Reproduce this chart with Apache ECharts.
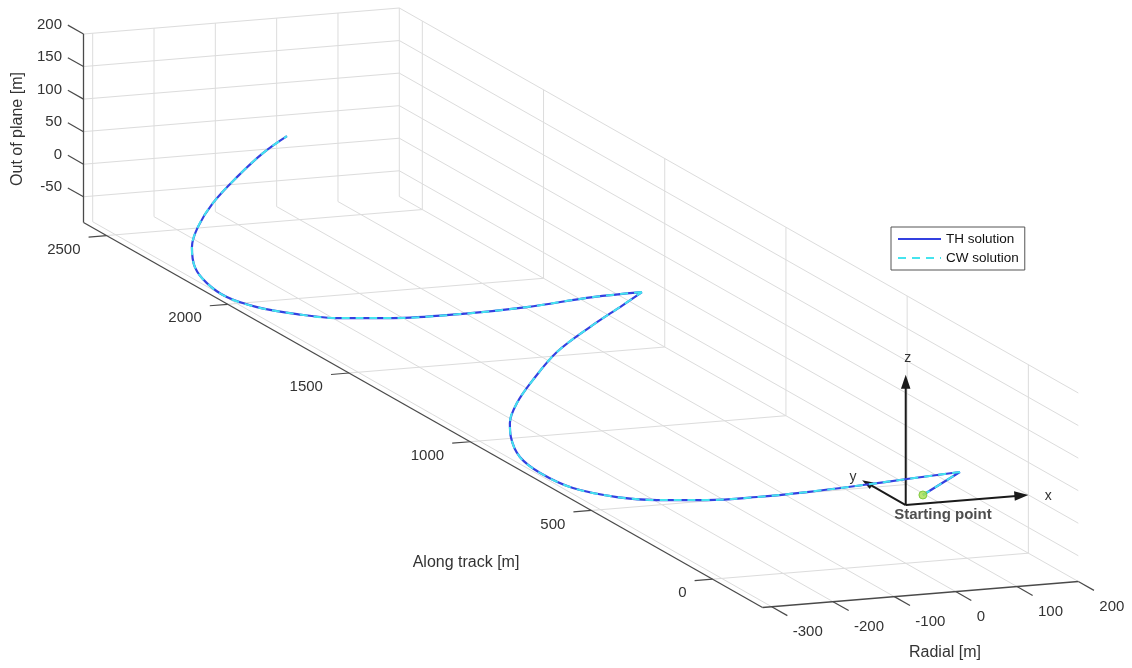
<!DOCTYPE html>
<html>
<head>
<meta charset="utf-8">
<title>Relative trajectory</title>
<script src="https://cdn.jsdelivr.net/npm/echarts@6/dist/echarts.min.js"></script>
<style>
  html, body { margin: 0; padding: 0; background: #ffffff; }
  #chart { width: 1132px; height: 668px; }
</style>
</head>
<body>
<div id="chart"></div>
<script>
// Chaser trajectory in the LVLH frame [m]
const radial = [28.0, 189.2, 103.9, 37.5, -43.9, -110.2, -171.9, -227.8, -264.4, -298.3, -315.0, -312.0, -295.3, -271.0, -236.6, -185.3, -113.6, -19.6, 81.2, 189.2, 110.4, 10.4, -82.4, -166.8, -231.1, -267.6, -295.0, -312.8, -312.3, -300.6, -270.9, -241.2, -191.3, -119.4, -46.3, 16.5];
const alongTrack = [0, 255.0, 257.9, 271.3, 296.6, 335.0, 385.4, 450.0, 522.5, 618.2, 710.9, 802.3, 881.8, 947.4, 1005.3, 1069.4, 1151.6, 1253.1, 1371.9, 1566.9, 1569.8, 1589.2, 1630.7, 1693.5, 1761.9, 1834.5, 1930.1, 2009.2, 2092.8, 2171.9, 2259.3, 2310.0, 2374.3, 2456.9, 2534.5, 2594.4];
const outOfPlane = [13.2, -17.8, -22.6, -29.5, -39.3, -49.9, -60.4, -69.7, -77.6, -81.3, -76.5, -71.5, -58.9, -53.1, -37.3, -19.5, 0.6, 10.3, 11.2, -18.4, -20.6, -32.3, -44.6, -57.5, -67.0, -73.3, -80.6, -80.6, -76.8, -69.8, -59.9, -42.2, -22.7, -5.8, 9.0, 17.6];
// samples where the relative velocity reverses (cusps of the path)
const cuspSamples = [1, 19];

// axis limits and ticks
const radialRange = [-315, 200];
const alongRange = [-206, 2595];
const outRange = [-89.5, 200];
const radialTicks = [-300, -200, -100, 0, 100, 200];
const alongTicks = [0, 500, 1000, 1500, 2000, 2500];
const outTicks = [-50, 0, 50, 100, 150, 200];

// local reference frame drawn at the origin
const frameNames = ['x', 'y', 'z'];
const frameLength = [200, 180, 200];

const FONT = '"Liberation Sans", Arial, Helvetica, sans-serif';
const GRID_COLOR = '#dcdcdc';
const AXIS_COLOR = '#4a4a4a';
const TEXT_COLOR = '#333333';
const TH_COLOR = '#3340e0';
const CW_COLOR = '#45e4ee';

// Orthographic view of the data box: anchor = (xmin, ymin, zmin) corner,
// edge vectors = screen extent of each full axis range.
const VIEW = { o: [762.5, 607.5], ex: [315.8, -26], ey: [-679, -385], ez: [0, -188.5] };

function project(x, y, z) {
  const fx = (x - radialRange[0]) / (radialRange[1] - radialRange[0]);
  const fy = (y - alongRange[0]) / (alongRange[1] - alongRange[0]);
  const fz = (z - outRange[0]) / (outRange[1] - outRange[0]);
  return [
    VIEW.o[0] + fx * VIEW.ex[0] + fy * VIEW.ey[0] + fz * VIEW.ez[0],
    VIEW.o[1] + fx * VIEW.ex[1] + fy * VIEW.ey[1] + fz * VIEW.ez[1]
  ];
}
function unit(a, b) {
  const dx = b[0] - a[0], dy = b[1] - a[1], l = Math.hypot(dx, dy);
  return [dx / l, dy / l];
}

const [X0, X1] = radialRange, [Y0, Y1] = alongRange, [Z0, Z1] = outRange;

// grid lines on the three back walls
const gridSegs = [];
radialTicks.forEach(x => {
  gridSegs.push([[x, Y1, Z0], [x, Y1, Z1]]);
  gridSegs.push([[x, Y0, Z0], [x, Y1, Z0]]);
});
alongTicks.forEach(y => {
  gridSegs.push([[X1, y, Z0], [X1, y, Z1]]);
  gridSegs.push([[X0, y, Z0], [X1, y, Z0]]);
});
outTicks.forEach(z => {
  gridSegs.push([[X0, Y1, z], [X1, Y1, z]]);
  gridSegs.push([[X1, Y0, z], [X1, Y1, z]]);
});
const axisSegs = [
  [[X0, Y1, Z0], [X0, Y1, Z1]],
  [[X0, Y0, Z0], [X0, Y1, Z0]],
  [[X0, Y0, Z0], [X1, Y0, Z0]]
];

function segData(segs) {
  return segs.map(s => project(...s[0]).concat(project(...s[1])));
}
function segSeries(segs, style, z) {
  return {
    type: 'custom', coordinateSystem: 'cartesian2d', silent: true, z: z,
    data: segData(segs),
    renderItem(params, api) {
      const a = api.coord([api.value(0), api.value(1)]);
      const b = api.coord([api.value(2), api.value(3)]);
      return { type: 'line', shape: { x1: a[0], y1: a[1], x2: b[0], y2: b[1] }, style: style };
    }
  };
}

// tick directions in the view
const dirPlusY = unit(project(X0, Y0, Z0), project(X0, Y1, Z0));
const dirMinusY = [-dirPlusY[0], -dirPlusY[1]];
const dirMinusX = unit(project(X1, Y0, Z0), project(X0, Y0, Z0));
const TICK = 18;

function tickSeries(points, values, dir, lab) {
  return {
    type: 'custom', coordinateSystem: 'cartesian2d', silent: true, z: 4,
    data: points,
    renderItem(params, api) {
      const p = api.coord([api.value(0), api.value(1)]);
      return {
        type: 'group',
        children: [
          { type: 'line', shape: { x1: p[0], y1: p[1], x2: p[0] + dir[0] * TICK, y2: p[1] + dir[1] * TICK },
            style: { stroke: AXIS_COLOR, lineWidth: 1.2 } },
          { type: 'text', x: p[0] + lab.dx, y: p[1] + lab.dy,
            style: { text: String(values[params.dataIndex]), fill: TEXT_COLOR, font: '15px ' + FONT,
                     textAlign: lab.align, textVerticalAlign: 'middle' } }
        ]
      };
    }
  };
}

// trajectory, broken at the cusps so the smoothing keeps them sharp
function pathData() {
  const out = [];
  for (let i = 0; i < radial.length; i++) {
    const p = project(radial[i], alongTrack[i], outOfPlane[i]);
    out.push(p);
    if (cuspSamples.indexOf(i) >= 0) { out.push(['-', '-']); out.push(p); }
  }
  return out;
}
const path = pathData();

// reference frame arrows from the origin
const frameData = frameNames.map((n, i) => {
  const d = [0, 0, 0]; d[i] = frameLength[i];
  return project(0, 0, 0).concat(project(d[0], d[1], d[2]));
});
const frameLabelOffset = [[20, 1], [-9, -3], [2, -17]];

const chart = echarts.init(document.getElementById('chart'), null, { renderer: 'canvas' });
chart.setOption({
  animation: false,
  backgroundColor: '#ffffff',
  grid: { left: 0, right: 0, top: 0, bottom: 0, containLabel: false },
  xAxis: { type: 'value', min: 0, max: 1132, show: false },
  yAxis: { type: 'value', min: 0, max: 668, inverse: true, show: false },
  legend: {
    data: ['TH solution', 'CW solution'],
    orient: 'vertical', left: 891, top: 227,
    padding: [5, 6, 5, 6], itemGap: 5, itemWidth: 43, itemHeight: 14,
    backgroundColor: '#ffffff', borderColor: '#555555', borderWidth: 1, borderRadius: 0,
    selectedMode: false,
    itemStyle: { opacity: 0 },
    textStyle: { fontSize: 13.5, color: '#111111', fontFamily: FONT }
  },
  graphic: [
    { type: 'text', x: 18, y: 129, rotation: Math.PI / 2,
      style: { text: 'Out of plane [m]', font: '16px ' + FONT, fill: TEXT_COLOR, textAlign: 'center', textVerticalAlign: 'middle' } },
    { type: 'text', x: 466, y: 563,
      style: { text: 'Along track [m]', font: '16px ' + FONT, fill: TEXT_COLOR, textAlign: 'center', textVerticalAlign: 'middle' } },
    { type: 'text', x: 945, y: 653,
      style: { text: 'Radial [m]', font: '16px ' + FONT, fill: TEXT_COLOR, textAlign: 'center', textVerticalAlign: 'middle' } }
  ],
  series: [
    segSeries(gridSegs, { stroke: GRID_COLOR, lineWidth: 1 }, 1),
    segSeries(axisSegs, { stroke: AXIS_COLOR, lineWidth: 1.3 }, 3),
    tickSeries(outTicks.map(z => project(X0, Y1, z)), outTicks, dirPlusY, { dx: -21.5, dy: -9.5, align: 'right' }),
    tickSeries(alongTicks.map(y => project(X0, y, Z0)), alongTicks, dirMinusX, { dx: -26, dy: 14, align: 'right' }),
    tickSeries(radialTicks.map(x => project(x, Y0, Z0)), radialTicks, dirMinusY, { dx: 21, dy: 25, align: 'left' }),
    {
      type: 'custom', coordinateSystem: 'cartesian2d', silent: true, z: 4,
      data: frameData,
      renderItem(params, api) {
        const a = api.coord([api.value(0), api.value(1)]);
        const b = api.coord([api.value(2), api.value(3)]);
        const d = unit(a, b), len = Math.hypot(b[0] - a[0], b[1] - a[1]);
        const head = Math.min(14, 0.22 * len), hw = head * 0.34;
        const bx = b[0] - d[0] * head, by = b[1] - d[1] * head;
        const off = frameLabelOffset[params.dataIndex];
        return {
          type: 'group',
          children: [
            { type: 'line', shape: { x1: a[0], y1: a[1], x2: bx + d[0] * 2, y2: by + d[1] * 2 },
              style: { stroke: '#1a1a1a', lineWidth: 2 } },
            { type: 'polygon', shape: { points: [[b[0], b[1]], [bx - d[1] * hw, by + d[0] * hw], [bx + d[1] * hw, by - d[0] * hw]] },
              style: { fill: '#1a1a1a' } },
            { type: 'text', x: b[0] + off[0], y: b[1] + off[1],
              style: { text: frameNames[params.dataIndex], font: '14px ' + FONT, fill: TEXT_COLOR, textAlign: 'center', textVerticalAlign: 'middle' } }
          ]
        };
      }
    },
    {
      name: 'TH solution', type: 'line', data: path, smooth: 0.35, symbol: 'none', silent: true,
      connectNulls: false, z: 5, color: TH_COLOR,
      lineStyle: { color: TH_COLOR, width: 2.2 }
    },
    {
      name: 'CW solution', type: 'line', data: path, smooth: 0.35, symbol: 'none', silent: true,
      connectNulls: false, z: 6, color: CW_COLOR,
      lineStyle: { color: CW_COLOR, width: 2, type: [8, 6] }
    },
    {
      type: 'scatter', silent: true, z: 7,
      data: [project(radial[0], alongTrack[0], outOfPlane[0])],
      symbol: 'circle', symbolSize: 8,
      itemStyle: { color: '#a6e04e', borderColor: '#6fbf2c', borderWidth: 1 },
      label: { show: true, formatter: 'Starting point', position: 'inside', offset: [20, 20],
               fontSize: 15, fontWeight: 'bold', fontFamily: FONT, color: '#222222' }
    }
  ]
});
</script>
</body>
</html>
